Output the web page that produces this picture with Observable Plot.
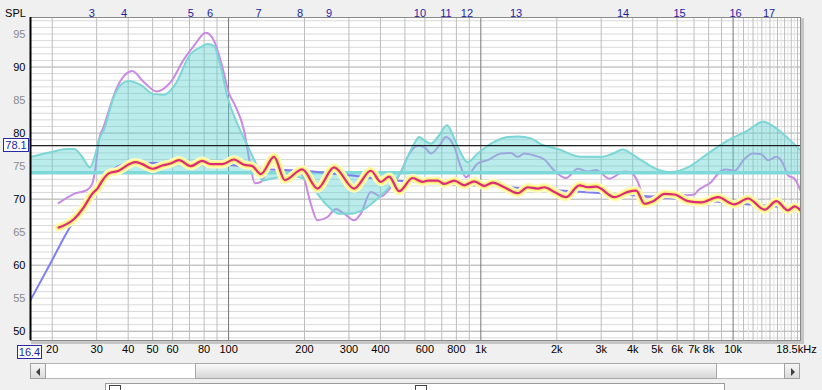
<!DOCTYPE html>
<html><head><meta charset="utf-8">
<script src="https://cdn.jsdelivr.net/npm/d3@7"></script>
<script src="https://cdn.jsdelivr.net/npm/@observablehq/plot@0.6"></script>
<style>
html,body{margin:0;padding:0;background:#f0f0f0;width:822px;height:390px;overflow:hidden;font-family:"Liberation Sans",Arial,sans-serif;}
#wrap{position:relative;width:822px;height:390px;}
#wrap svg{position:absolute;left:0;top:0;}
.box{position:absolute;border:1px solid #2a2aa8;background:#fff;color:#1c1ca8;font-size:11px;line-height:12px;height:12px;text-align:center;box-sizing:content-box;}
.sb{position:absolute;top:363px;height:16px;box-sizing:border-box;}
.btn{background:linear-gradient(#f6f6f6,#dcdcdc);border:1px solid #a0a0a0;}
.tri{position:absolute;top:4px;width:0;height:0;border-top:4px solid transparent;border-bottom:4px solid transparent;}
</style></head><body><div id="wrap"></div>
<script>
// ---- data ----
const refLevel = 78.1;
const eqBaseline = 74;
const eqFreq = [16.4, 19.7, 22.9, 24.4, 26.3, 28.2, 29.7, 30.6, 32.0, 35.1, 37.9, 40.3, 44.8, 50.6, 55.4, 60.8, 70.8, 77.5, 82.4, 87.5, 93.1, 98.9, 108.4, 118.8, 130.2, 136.2, 147, 176.4, 205.5, 225.2, 246.7, 274.3, 305.2, 344.7, 389.5, 439.9, 482.1, 512.5, 544.4, 569.8, 596.5, 634.1, 684.1, 733.9, 784.6, 834, 886.7, 971.6, 1097, 1278, 1401, 1581, 1733, 2018, 2497, 2998, 3336, 3654, 3943, 4321, 4879, 5682, 6620, 7947, 9540, 11450, 13140, 14600, 16510, 18500];
const eqSpl = [76.4, 77.1, 77.6, 77.6, 76.4, 74.8, 76.9, 78.9, 80.4, 85.5, 87.5, 87.9, 87.3, 85.9, 85.8, 87.1, 92.0, 93.0, 93.5, 93.2, 90.0, 85.5, 81.4, 78.1, 74.8, 72.8, 73.1, 73.5, 72.8, 70.8, 69.0, 67.8, 67.8, 68.5, 70.1, 72.1, 74.1, 76.4, 78.4, 79.4, 78.9, 78.4, 79.7, 81.2, 79.2, 76.9, 75.6, 76.9, 78.4, 79.4, 79.5, 79.2, 78.3, 77.6, 76.4, 76.4, 76.9, 77.5, 76.9, 75.9, 74.7, 74.1, 74.8, 76.9, 78.9, 80.4, 81.7, 80.9, 79.2, 77.4];

const measFreq = [21.2, 24.4, 27.5, 28.8, 29.7, 30.6, 32.0, 36.2, 41.5, 46.2, 52.0, 58.9, 66.6, 72.9, 81.2, 87.5, 94.5, 100.4, 105.1, 115.2, 122.4, 127, 134.2, 151.5, 168.5, 187.6, 199.3, 211.8, 225.2, 246.7, 266.1, 287.1, 314.6, 334.4, 366.4, 401.5, 439.9, 482.1, 512.5, 561.5, 596.5, 634.1, 684.1, 727.2, 784.6, 834, 873, 913.9, 971.6, 1064, 1202, 1317, 1401, 1487, 1630, 1786, 1956, 2177, 2423, 2655, 2863, 3233, 3709, 3943, 4193, 4388, 4600, 5346, 5855, 6620, 7012, 7253, 8189, 8973, 9392, 10130, 11100, 11990, 12935, 13750, 14840, 15770, 16510, 17530, 18500];
const measSpl = [69.4, 70.8, 71.4, 72.3, 74.8, 78.9, 81.0, 87.0, 89.4, 87.7, 86.3, 87.7, 91.2, 93.2, 95.2, 94.0, 90.0, 86.0, 84.5, 80.4, 74.8, 72.4, 72.6, 76.3, 73.0, 74.4, 73.1, 69.3, 66.8, 67.3, 68.5, 67.8, 66.8, 67.8, 71.1, 70.4, 71.8, 74.1, 76.4, 78.1, 77.9, 76.9, 78.1, 79.4, 77.9, 74.8, 73.3, 74.1, 75.4, 75.9, 76.9, 77.0, 76.4, 76.9, 76.6, 76.0, 74.3, 73.2, 74.6, 74.2, 74.4, 73.1, 74.2, 74.0, 72.6, 70.6, 70.3, 70.8, 70.7, 70.6, 70.7, 71.3, 72.6, 74.3, 74.5, 74.3, 76.1, 76.9, 76.8, 75.9, 76.4, 75.4, 73.6, 73.1, 71.3];

const predFreq = [21.2, 24.4, 26.7, 28.8, 30.2, 31.6, 33.5, 36.7, 40.9, 42.8, 45.5, 49.9, 54.6, 58.9, 63.6, 70.8, 78.7, 85.0, 94.5, 105.1, 115.2, 124.3, 134.2, 151.5, 167, 196, 225.2, 262, 314.6, 366.4, 401.5, 433, 474.6, 536.5, 587.8, 615.2, 674.2, 716, 784.6, 859.5, 941.9, 1032, 1114, 1239, 1401, 1534, 1681, 1786, 1956, 2177, 2459, 2655, 2863, 3384, 3825, 4128, 4453, 4879, 5346, 5855, 6620, 7475, 8707, 10130, 11450, 13330, 14840, 16510, 17530, 18500];
const predSpl = [65.7, 67.0, 68.8, 70.8, 71.6, 72.8, 73.9, 74.3, 75.4, 75.6, 75.3, 74.6, 75.1, 75.4, 75.9, 75.0, 75.8, 75.3, 75.3, 76.0, 75.2, 75.0, 73.8, 76.4, 72.9, 74.5, 71.6, 74.8, 71.6, 74.3, 72.6, 73.4, 71.2, 73.2, 72.6, 72.8, 72.8, 72.3, 72.8, 72.1, 72.7, 72.0, 72.5, 71.8, 70.9, 71.8, 71.6, 71.8, 71.1, 70.3, 72.1, 71.8, 71.9, 70.3, 71.1, 71.3, 69.3, 69.8, 70.8, 70.7, 69.7, 69.5, 70.3, 69.2, 70.1, 68.4, 69.7, 68.3, 68.9, 68.3];

const targetFreq = [16.4, 20, 22.5, 25, 28, 31, 35, 40, 60, 100, 134, 200, 300, 440, 1278, 1733, 4321, 7947, 18500];
const targetSpl = [54.7, 60.8, 64.5, 67.5, 70.5, 73.0, 74.6, 75.4, 75.5, 75.2, 74.6, 74.3, 73.6, 72.9, 71.8, 71.5, 70.5, 69.7, 68.6];

const filterFreq = [28.7, 38.5, 70.8, 84.4, 131.4, 192.1, 250.3, 573.5, 727, 881, 1379, 3664, 6132, 10225, 13880];
const filterNum = ["3","4","5","6","7","8","9","10","11","12","13","14","15","16","17"];

const xTickFreq = [20, 30, 40, 50, 60, 80, 100, 200, 300, 400, 600, 800, 1000, 2000, 3000, 4000, 5000, 6000, 7000, 8000, 10000];
const xTickText = ["20","30","40","50","60","80","100","200","300","400","600","800","1k","2k","3k","4k","5k","6k","7k","8k","10k"];
const xEndFreq = 18500, xEndText = "18.5kHz";
const xStartFreq = 16.4, xStartText = "16.4";
const yTicksMajor = [50, 60, 70, 80, 90];
const yTicksMinor = [55, 65, 75, 85, 95];

// ---- grid ----
const vMinor = [], vMajor = [100, 1000, 10000], vFaint = [];
for (const dec of [10, 100, 1000]) for (let k = 2; k <= 9; k++) vMinor.push(k * dec);
for (let k = 11; k <= 18; k++) vMinor.push(k * 1000);
for (let k = 10; k <= 17; k++) vFaint.push(k * 1000 + 500);
const hMajor = [], hMinor = [];
for (let v = 49; v <= 97; v++) (v % 10 === 0 ? hMajor : hMinor).push(v);

const rows = (fs, vs) => fs.map((f, i) => ({f, v: vs[i]}));
const eq = rows(eqFreq, eqSpl), meas = rows(measFreq, measSpl), pred = rows(predFreq, predSpl), target = rows(targetFreq, targetSpl);
const curve = "monotone-x";

const chart = Plot.plot({
  width: 822, height: 360,
  marginLeft: 30, marginRight: 22, marginTop: 17, marginBottom: 20,
  x: {type: "log", domain: [16.4, 18500], axis: null},
  y: {domain: [48.6, 97.5], axis: null},
  style: {background: "transparent", fontFamily: '"Liberation Sans", Arial, sans-serif', fontSize: "11px", overflow: "visible"},
  marks: [
    Plot.frame({stroke: "#c6c6c6", strokeWidth: 3, dx: 2, dy: 2}),
    Plot.frame({fill: "#ffffff", stroke: "none"}),
    Plot.ruleY(hMinor, {stroke: "#d9d9d9"}),
    Plot.ruleY(hMajor, {stroke: "#a9a9a9"}),
    Plot.ruleX(vFaint, {stroke: "#e4e4e4"}),
    Plot.ruleX(vMinor, {stroke: "#bdbdbd"}),
    Plot.ruleX(vMajor, {stroke: "#767676"}),
    Plot.line(meas, {x: "f", y: "v", stroke: "#c98ae2", strokeWidth: 2, curve, clip: true}),
    Plot.areaY(eq, {x: "f", y1: eqBaseline, y2: "v", fill: "#5ed2d2", fillOpacity: 0.42, curve, clip: true}),
    Plot.ruleY([eqBaseline], {stroke: "#7fd9d9", strokeWidth: 3.5}),
    Plot.line(eq, {x: "f", y: "v", stroke: "#7dd6d6", strokeWidth: 2, curve, clip: true}),
    Plot.line(target, {x: "f", y: "v", stroke: "#7f7ff0", strokeWidth: 2, curve, clip: true}),
    Plot.ruleY([refLevel], {stroke: "#000000", strokeWidth: 1}),
    Plot.line(pred, {x: "f", y: "v", stroke: "#fffbbd", strokeWidth: 8.5, curve, clip: true, strokeLinecap: "round"}),
    Plot.line(pred, {x: "f", y: "v", stroke: "#fff075", strokeWidth: 5, curve, clip: true, strokeLinecap: "round"}),
    Plot.line(pred, {x: "f", y: "v", stroke: "#dc2a7a", strokeWidth: 2.2, curve, clip: true}),
    Plot.frame({stroke: "#8a8a8a"}),
    Plot.ruleX([16.4], {stroke: "#000000", strokeWidth: 2}),
    Plot.text(yTicksMajor, {y: d => d, text: d => String(d), frameAnchor: "left", textAnchor: "end", dx: -5, fill: "#000000"}),
    Plot.text(yTicksMinor, {y: d => d, text: d => String(d), frameAnchor: "left", textAnchor: "end", dx: -5, fill: "#8a8a8a"}),
    Plot.text(xTickFreq, {x: d => d, text: (d, i) => xTickText[i], frameAnchor: "bottom", dy: 12, fill: "#000000"}),
    Plot.text([xEndFreq], {x: d => d, text: () => xEndText, frameAnchor: "bottom", dy: 12, dx: -4, fill: "#000000"}),
    Plot.text(filterFreq, {x: d => d, text: (d, i) => filterNum[i], frameAnchor: "top", dy: -8, fill: "#1c1ca8"}),
    Plot.text(["SPL"], {text: d => d, frameAnchor: "top-left", textAnchor: "middle", dx: -15, dy: -8, fill: "#000000"})
  ]
});
const wrap = document.getElementById("wrap");
wrap.appendChild(chart);

const xs = chart.scale("x"), ys = chart.scale("y");
function box(text, cx, cy, w) {
  const b = document.createElement("div");
  b.className = "box";
  b.textContent = text;
  b.style.width = w + "px";
  b.style.left = (cx - w / 2 - 1) + "px";
  b.style.top = (cy - 7) + "px";
  wrap.appendChild(b);
}
box(String(refLevel), 16, ys.apply(refLevel), 24);
box(xStartText, xs.apply(xStartFreq) - 0.5, 352, 23);

// scrollbar (decoration)
function el(style, cls) { const d = document.createElement("div"); if (cls) d.className = cls; Object.assign(d.style, style); wrap.appendChild(d); return d; }
el({left: "30px", width: "770px", background: "#ffffff", border: "1px solid #b8b8b8"}, "sb");
const lb = el({left: "30px", width: "16px"}, "sb btn");
const lt = document.createElement("div"); lt.className = "tri"; Object.assign(lt.style, {left: "5px", borderRight: "4px solid #404040"}); lb.appendChild(lt);
el({left: "195px", width: "522px", background: "linear-gradient(#fafafa,#d6d6d6)", border: "1px solid #a8a8a8"}, "sb");
const rb = el({left: "784px", width: "16px"}, "sb btn");
const rt = document.createElement("div"); rt.className = "tri"; Object.assign(rt.style, {left: "6px", borderLeft: "4px solid #404040"}); rb.appendChild(rt);
// lower panel edge
el({position: "absolute", left: "105px", top: "383px", width: "620px", height: "12px", background: "#ffffff", border: "1px solid #9a9a9a", boxSizing: "border-box"});
el({position: "absolute", left: "109px", top: "385px", width: "12px", height: "12px", background: "#ffffff", border: "1px solid #444", boxSizing: "border-box"});
el({position: "absolute", left: "415px", top: "385px", width: "12px", height: "12px", background: "#ffffff", border: "1px solid #444", boxSizing: "border-box"});
</script>
</body></html>
